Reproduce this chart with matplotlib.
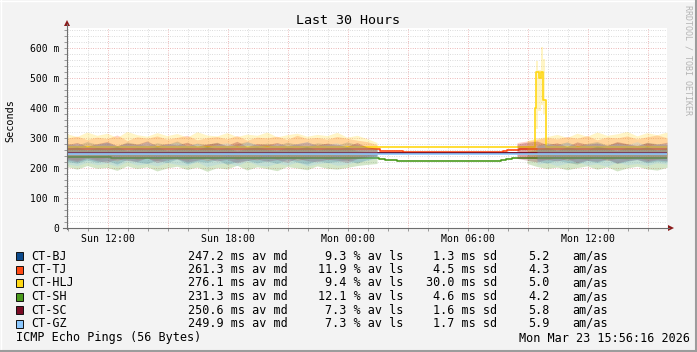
"""SmokePing-style multi-host latency chart (Last 30 Hours), drawn with matplotlib."""
import numpy as np
import pandas as pd
import matplotlib
matplotlib.use("Agg")
import matplotlib.pyplot as plt
import matplotlib.dates as mdates
from matplotlib.lines import Line2D
from matplotlib.patches import Polygon, Rectangle
from matplotlib.ticker import MultipleLocator, FuncFormatter

# ---- data -----------------------------------------------------------------
END = pd.Timestamp("2026-03-23 15:56:16")
START = END - pd.Timedelta(hours=30)

hosts = ["CT-BJ", "CT-TJ", "CT-HLJ", "CT-SH", "CT-SC", "CT-GZ"]
colors = ["#0C4A8C", "#FF4A14", "#FFD814", "#4A9A1C", "#7A0A24", "#8CC8FF"]

# legend statistics
median_ms = ["247.2", "261.3", "276.1", "231.3", "250.6", "249.9"]
loss_pct = ["9.3", "11.9", "9.4", "12.1", "7.3", "7.3"]
sd_ms = ["1.3", "4.5", "30.0", "4.6", "1.6", "1.7"]
am_as = ["5.2", "4.3", "5.0", "4.2", "5.8", "5.9"]

# smoke (ping spread) sampled every 30 min; part A = hours 0..15.5,
# part C = hours 22.5..30, nothing in between (ms)
smoke_hours_a = np.arange(0, 16, 0.5)
smoke_hours_c = np.arange(22.5, 30.5, 0.5)

bj_hi_a = [282, 276, 288, 279, 285, 273, 287, 280, 275, 284, 278, 290, 274, 283, 279, 286,
           272, 281, 288, 277, 283, 275, 286, 279, 273, 284, 280, 276, 287, 278, 272, 265]
bj_lo_a = [222, 216, 227, 219, 225, 213, 229, 220, 215, 226, 218, 230, 214, 223, 219, 228,
           212, 221, 226, 217, 224, 215, 229, 220, 213, 225, 218, 222, 227, 216, 228, 235]
bj_hi_c = [None, None, 276, 284, 279, 287, 274, 282, 288, 277, 285, 280, 273, 286, 281, 278]
bj_lo_c = [None, None, 224, 216, 226, 219, 213, 225, 218, 228, 215, 222, 229, 217, 223, 220]

tj_hi_a = [300, 306, 295, 303, 298, 310, 292, 304, 299, 307, 296, 302, 309, 294, 301, 305,
           297, 308, 293, 303, 300, 306, 295, 309, 298, 302, 296, 305, 299, 293, 288, 278]
tj_lo_a = [232, 226, 236, 229, 234, 223, 238, 228, 233, 225, 237, 230, 227, 235, 224, 231,
           236, 228, 233, 226, 239, 229, 234, 225, 231, 237, 228, 232, 226, 235, 240, 246]
tj_hi_c = [285, 290, 296, 302, 297, 305, 299, 308, 294, 303, 300, 307, 297, 304, 310, 301]
tj_lo_c = [240, 236, 230, 227, 234, 225, 231, 228, 236, 224, 232, 229, 235, 226, 230, 233]

hlj_hi_a = [314, 305, 320, 309, 316, 302, 322, 311, 306, 318, 308, 315, 303, 321, 310, 307,
            318, 305, 313, 309, 320, 304, 311, 316, 306, 312, 308, 319, 303, 309, 298, 285]
hlj_lo_a = [238, 242, 232, 240, 235, 244, 230, 239, 236, 243, 233, 241, 237, 229, 240, 234,
            242, 236, 231, 239, 244, 233, 238, 235, 241, 230, 237, 243, 234, 239, 245, 252]
hlj_hi_c = [None, 292, 300, 305, 312, 302, 316, 306, 320, 309, 314, 322, 307, 318, 311, 320]
hlj_lo_c = [None, 250, 240, 236, 243, 232, 239, 235, 241, 230, 238, 234, 242, 231, 237, 236]

sh_hi_a = [266, 270, 260, 268, 263, 272, 258, 267, 264, 271, 259, 265, 269, 261, 273, 262,
           268, 257, 266, 270, 263, 259, 269, 264, 272, 260, 267, 263, 270, 258, 255, 248]
sh_lo_a = [205, 196, 208, 199, 202, 192, 207, 198, 204, 190, 200, 206, 195, 203, 189, 201,
           197, 209, 193, 204, 198, 191, 205, 200, 194, 207, 199, 196, 202, 208, 212, 215]
sh_hi_c = [None, 255, 262, 268, 259, 270, 264, 261, 273, 266, 258, 269, 263, 271, 260, 267]
sh_lo_c = [None, 215, 205, 198, 203, 194, 201, 207, 196, 204, 190, 200, 206, 197, 193, 202]

sc_hi_a = [278, 285, 272, 281, 288, 275, 283, 279, 290, 274, 282, 277, 286, 273, 280, 284,
           276, 289, 271, 282, 278, 285, 274, 281, 287, 276, 283, 279, 272, 285, 270, 266]
sc_lo_a = [228, 221, 232, 224, 219, 230, 225, 222, 234, 218, 227, 231, 220, 226, 233, 223,
           229, 217, 225, 230, 222, 228, 219, 232, 224, 221, 229, 226, 218, 231, 236, 240]
sc_hi_c = [280, 286, 290, 278, 284, 272, 287, 279, 283, 275, 288, 281, 276, 284, 279, 286]
sc_lo_c = [232, 226, 220, 229, 223, 231, 218, 226, 222, 230, 217, 225, 228, 221, 227, 224]

gz_hi_a = [276, 283, 271, 279, 286, 274, 281, 277, 288, 272, 280, 285, 275, 282, 270, 279,
           284, 273, 287, 278, 272, 283, 276, 281, 288, 274, 279, 284, 271, 277, 268, 262]
gz_lo_a = [214, 208, 219, 211, 216, 206, 221, 210, 215, 207, 218, 212, 209, 220, 205, 213,
           217, 208, 222, 211, 206, 216, 210, 219, 207, 214, 218, 209, 213, 221, 225, 232]
gz_hi_c = [None, None, 274, 281, 276, 286, 272, 279, 284, 275, 282, 277, 288, 273, 280, 283]
gz_lo_c = [None, None, 212, 218, 208, 216, 221, 210, 214, 206, 219, 211, 215, 209, 217, 213]

# HLJ latency spike around Mon 09:20
hlj_spike_hours = [23.45, 23.55, 23.68, 23.80, 23.92]
hlj_spike_hi = [557, 528, 604, 565, 565]
hlj_spike_lo = [330, 390, 410, 380, 380]

# median lines as step change points (hour, ms)
bj_med_h = [0, 15.8, 22.5, 30]
bj_med = [249, 249.5, 249, 249]
tj_med_h = [0, 15.65, 16.8, 21.6, 21.8, 22.0, 22.3, 22.6, 30]
tj_med = [262, 257, 253.5, 255, 257, 259, 261, 262, 262]
hlj_med_h = [0, 15.8, 23.40, 23.45, 23.61, 23.69, 23.81, 23.95, 30]
hlj_med = [270, 271, 400, 521, 500, 521, 427, 271, 271]
sh_med_h = [0, 2.2, 15.6, 15.9, 16.2, 16.5, 16.9, 21.7, 21.95, 22.25, 22.6, 30]
sh_med = [236, 232, 229, 226, 228, 225, 224, 226, 229, 232, 234, 234]
sc_med_h = [0, 15.8, 22.5, 30]
sc_med = [250, 251, 251, 251]
gz_med_h = [0, 15.8, 22.5, 30]
gz_med = [247, 246, 247, 247]

smoke = [
    (bj_hi_a, bj_lo_a, bj_hi_c, bj_lo_c),
    (tj_hi_a, tj_lo_a, tj_hi_c, tj_lo_c),
    (hlj_hi_a, hlj_lo_a, hlj_hi_c, hlj_lo_c),
    (sh_hi_a, sh_lo_a, sh_hi_c, sh_lo_c),
    (sc_hi_a, sc_lo_a, sc_hi_c, sc_lo_c),
    (gz_hi_a, gz_lo_a, gz_hi_c, gz_lo_c),
]
medians = [(bj_med_h, bj_med), (tj_med_h, tj_med), (hlj_med_h, hlj_med),
           (sh_med_h, sh_med), (sc_med_h, sc_med), (gz_med_h, gz_med)]

# ---- layout helpers -------------------------------------------------------
W, H = 697, 352
BG = "#F3F3F3"
plt.rcParams["font.family"] = ["DejaVu Sans Mono", "DejaVu Sans"]


def to_dates(hours):
    idx = START + pd.to_timedelta(np.asarray(hours, dtype=float), unit="h")
    return mdates.date2num(idx.to_pydatetime())


def fx(x):
    return x / W


def fy(y):
    return 1 - y / H


def ftext(x, y, s, **kw):
    kw.setdefault("va", "center")
    kw.setdefault("fontsize", 8.45)
    fig.text(fx(x), fy(y), s, **kw)


fig = plt.figure(figsize=(W / 100, H / 100), dpi=100, facecolor=BG)
ax = fig.add_axes([fx(67), fy(228), 600 / W, 200 / H])
ax.set_facecolor("white")
ax.set_xlim(to_dates([0, 30]))
ax.set_ylim(0, 2000 / 3)

# ---- grid -----------------------------------------------------------------
ax.xaxis.set_major_locator(mdates.HourLocator(byhour=range(0, 24, 3)))
ax.xaxis.set_minor_locator(mdates.HourLocator())
ax.yaxis.set_major_locator(MultipleLocator(100))
ax.yaxis.set_minor_locator(MultipleLocator(20))


def xfmt(v, pos):
    d = mdates.num2date(v)
    return d.strftime("%a %H:%M") if d.hour % 6 == 0 else ""


ax.xaxis.set_major_formatter(FuncFormatter(xfmt))
ax.yaxis.set_major_formatter(FuncFormatter(lambda v, p: "0" if v == 0 else f"{v:.0f} m"))
ax.set_axisbelow(True)
ax.grid(which="minor", color="#CFCFCF", linestyle=(0, (1, 1.8)), linewidth=0.6)
ax.grid(which="major", color="#E7A2A2", linestyle=(0, (1, 1.8)), linewidth=0.6)
for s in ax.spines.values():
    s.set_visible(False)
ax.tick_params(which="both", direction="out", length=2, width=0.6, color="#8C8C8C")
ax.tick_params(axis="x", labelsize=7.1, pad=2.2)
ax.tick_params(axis="y", labelsize=7.0, pad=3.6)

# ---- smoke and medians ----------------------------------------------------
xa = to_dates(smoke_hours_a)
xc = to_dates(smoke_hours_c)
for i, (col, (hi_a, lo_a, hi_c, lo_c), (mh, mv)) in enumerate(zip(colors, smoke, medians)):
    z = 2 + 2 * i
    ax.fill_between(xa, np.array(lo_a, float), np.array(hi_a, float),
                    color=col, alpha=0.24, linewidth=0, zorder=z)
    ax.fill_between(xc, np.array(lo_c, float), np.array(hi_c, float),
                    color=col, alpha=0.24, linewidth=0, zorder=z)
    if hosts[i] == "CT-HLJ":
        ax.fill_between(to_dates(hlj_spike_hours), hlj_spike_lo, hlj_spike_hi,
                        step="post", color=col, alpha=0.24, linewidth=0, zorder=z)
    ax.step(to_dates(mh), mv, where="post", color=col, linewidth=1.2, zorder=z + 1)

# ---- axes with arrows -----------------------------------------------------
axis_col, arrow_col = "#6E6E6E", "#8B1A1A"
fig.add_artist(Line2D([fx(67), fx(67)], [fy(229), fy(24)], color=axis_col, lw=0.8))
fig.add_artist(Line2D([fx(63), fx(669)], [fy(228), fy(228)], color=axis_col, lw=0.8))
fig.add_artist(Polygon([(fx(64), fy(26)), (fx(70), fy(26)), (fx(67), fy(20))],
                       closed=True, color=arrow_col, lw=0))
fig.add_artist(Polygon([(fx(668), fy(225)), (fx(668), fy(231)), (fx(674), fy(228))],
                       closed=True, color=arrow_col, lw=0))

# ---- titles ---------------------------------------------------------------
ftext(347.5, 20, "Last 30 Hours", ha="center", fontsize=9.6)
ftext(10, 121, "Seconds", ha="center", rotation=90, fontsize=7.3)
ftext(688, 5, "RRDTOOL / TOBI OETIKER", ha="center", va="top", rotation=270,
      fontsize=6.0, color="#B4B4B4")

# ---- legend ---------------------------------------------------------------
row_y = [256, 269.5, 283, 296.5, 310, 323.5]
for i, name in enumerate(hosts):
    y = row_y[i]
    fig.add_artist(Rectangle((fx(15.5), fy(y + 4)), 7 / W, 8 / H, facecolor=colors[i],
                             edgecolor="#111111", lw=0.7))
    ftext(31, y, name, ha="left")
    ftext(287.5, y, f"{median_ms[i]} ms av md", ha="right")
    ftext(403, y, f"{loss_pct[i]} % av ls", ha="right")
    ftext(497.5, y, f"{sd_ms[i]} ms sd", ha="right")
    ftext(549.5, y, am_as[i], ha="right")
    ftext(572, y, "am/as", ha="left")

ftext(16, 338, "ICMP Echo Pings (56 Bytes)", ha="left")
ftext(690, 338, "Mon Mar 23 15:56:16 2026", ha="right")

# ---- 3D frame -------------------------------------------------------------
fig.add_artist(Line2D([0, 1], [fy(0.5), fy(0.5)], color="white", lw=1.0))
fig.add_artist(Line2D([fx(0.5), fx(0.5)], [0, 1], color="white", lw=1.0))
fig.add_artist(Line2D([0, 1], [fy(351), fy(351)], color="#9C9C9C", lw=1.5))
fig.add_artist(Line2D([fx(696), fx(696)], [0, 1], color="#9C9C9C", lw=1.5))

fig.savefig("out.png", dpi=100, facecolor=fig.get_facecolor())
